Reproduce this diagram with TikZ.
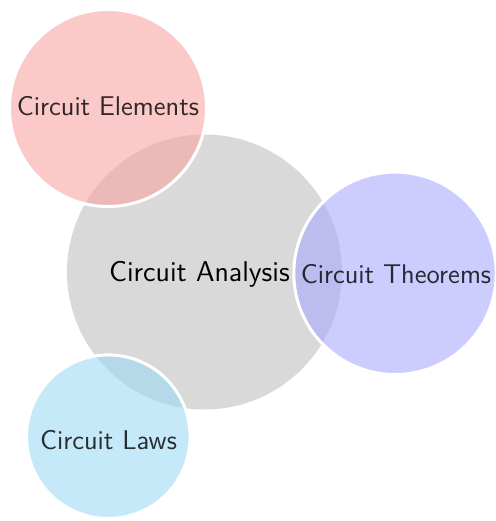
\documentclass[tikz,border=0pt]{standalone}
\usepackage{tikz}
\definecolor{hubgray}{RGB}{217,217,217}
\definecolor{satred}{RGB}{250,165,165}
\definecolor{satblue}{RGB}{170,170,255}
\definecolor{satcyan}{RGB}{160,218,245}
\tikzset{
  hub/.style={circle, inner sep=0pt, fill=hubgray, minimum size=#1},
  sat/.style={circle, inner sep=0pt, draw=white, line width=1.5pt, fill opacity=0.6, draw opacity=1, minimum size=#1},
  hublabel/.style={inner sep=0pt, anchor=base, font=\sffamily\fontsize{14.3}{17}\selectfont, text=black},
  satlabel/.style={inner sep=0pt, anchor=base, font=\sffamily\fontsize{13.55}{16}\selectfont, text=black, text opacity=0.8}
}
\begin{document}
\begin{tikzpicture}[x=0.5pt,y=-0.5pt]
\useasboundingbox (0,0) rectangle (496,521);
\node[hub=137.5pt] (hub) at (204.5,272) {};
\node[sat=98.5pt, fill=satred] (elem) at (108,108) {};
\node[sat=101.2pt, fill=satblue] (theo) at (395,273.3) {};
\node[sat=81.8pt, fill=satcyan] (laws) at (108.3,436.7) {};
\node[hublabel] (hubtext) at (199.5,281.5) {Circuit Analysis};
\node[satlabel] (elemtext) at (108,115.7) {Circuit Elements};
\node[satlabel] (theotext) at (396,283.3) {Circuit Theorems};
\node[satlabel] (lawstext) at (108.5,449) {Circuit Laws};
\end{tikzpicture}
\end{document}
